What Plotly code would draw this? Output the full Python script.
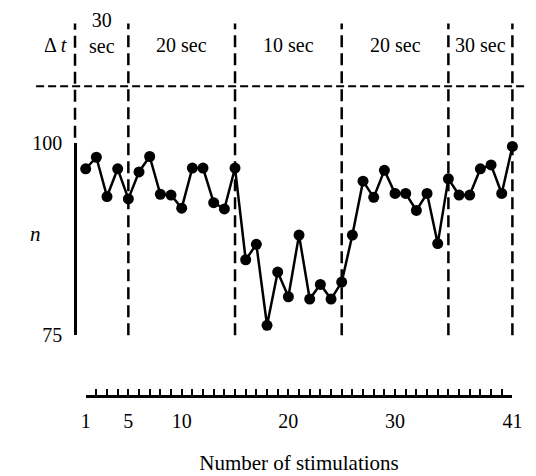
import plotly.graph_objects as go

# ---- data ----
stimulation = list(range(1, 42))
n_values = [96.6, 98.1, 93.0, 96.6, 92.7, 96.2, 98.2, 93.3, 93.2, 91.5,
            96.7, 96.7, 92.2, 91.4, 96.7, 84.8, 86.8, 76.3, 83.2, 80.0,
            88.0, 79.7, 81.6, 79.7, 81.9, 88.0, 95.0, 92.9, 96.4, 93.4,
            93.4, 91.2, 93.4, 86.9, 95.3, 93.2, 93.2, 96.6, 97.1, 93.4, 99.5]
boundaries = [0, 5, 15, 25, 35, 41]
interval_labels = ["30<br>sec", "20 sec", "10 sec", "20 sec", "30 sec"]
y_ticks = [75, 100]
x_labeled = [1, 5, 10, 20, 30, 41]

W, H = 536, 476
FONT = "Liberation Serif"
BLACK = "black"

# pixel calibration of the frame
px1, px41 = 83.0, 522.0
unit = (px41 - px1) / 40.0
X0 = 1 - px1 / unit
X1 = X0 + W / unit
py100, py75 = 138.0, 340.0

fig = go.Figure()
# anchor trace for the ruler axis (added first so it is underneath)
fig.add_trace(go.Scatter(
    x=[stimulation[0]], y=[y_ticks[0]], mode="markers", xaxis="x2", yaxis="y2",
    marker=dict(opacity=0), showlegend=False, hoverinfo="skip"))
fig.add_trace(go.Scatter(
    x=stimulation, y=n_values, mode="lines+markers",
    xaxis="x", yaxis="y2",
    line=dict(color=BLACK, width=2.5),
    marker=dict(size=11, color=BLACK),
    cliponaxis=False, showlegend=False, hoverinfo="skip"))

ticktext = [str(v) if v in x_labeled else "" for v in stimulation]

fig.update_layout(
    width=W, height=H, autosize=False,
    margin=dict(l=0, r=0, t=0, b=0),
    paper_bgcolor="white", plot_bgcolor="rgba(0,0,0,0)",
    font=dict(family=FONT, color=BLACK, size=20),
    xaxis=dict(domain=[0, 1], range=[X0, X1], visible=False, anchor="y2"),
    yaxis2=dict(domain=[(H - py75) / H, (H - py100) / H], range=[75, 100],
                anchor="free", position=(px1 - unit) / W,
                showline=True, linewidth=2.5, linecolor=BLACK,
                ticks="inside", ticklen=10, tickwidth=2.5, tickcolor=BLACK,
                tickvals=y_ticks, showgrid=False, zeroline=False,
                tickfont=dict(family=FONT, size=20), ticklabelstandoff=8),
    xaxis2=dict(domain=[px1 / W, px41 / W], range=[1, 41],
                anchor="free", position=(H - 404) / H,
                showline=True, linewidth=2.5, linecolor=BLACK,
                ticks="inside", ticklen=7, tickwidth=2, tickcolor=BLACK,
                tickvals=stimulation, ticktext=ticktext,
                showgrid=False, zeroline=False,
                tickfont=dict(family=FONT, size=20), ticklabelstandoff=6,
                title=dict(text="Number of stimulations", standoff=24,
                           font=dict(family=FONT, size=21))),
)

# dashed boundaries between intervals
for b in boundaries:
    fig.add_shape(type="line", xref="x", yref="paper",
                  x0=b, x1=b,
                  y0=((H - py100 + 5) / H) if b == boundaries[0] else (H - py75) / H,
                  y1=(H - 13) / H,
                  line=dict(color=BLACK, width=2.5, dash="12px,6px"))
# horizontal dashed separator
fig.add_shape(type="line", xref="paper", yref="paper",
              x0=32 / W, x1=1, y0=(H - 79) / H, y1=(H - 79) / H,
              line=dict(color=BLACK, width=2, dash="8px,4px"))

# interval labels
for i, lab in enumerate(interval_labels):
    mid = (boundaries[i] + boundaries[i + 1]) / 2
    fig.add_annotation(x=mid, xref="x", y=(H - (23 if "<br>" in lab else 36)) / H,
                       yref="paper", yanchor="middle", text=lab, showarrow=False,
                       font=dict(family=FONT, size=20), align="center")
fig.add_annotation(x=38 / W, xref="paper", y=(H - 36) / H, yref="paper",
                   yanchor="middle", text="Δ <i>t</i>", showarrow=False,
                   font=dict(family=FONT, size=20))
fig.add_annotation(x=24 / W, xref="paper", y=(H - 234) / H, yref="paper",
                   yanchor="middle", text="<i>n</i>", showarrow=False,
                   font=dict(family=FONT, size=21))

fig.write_html("out.html")
